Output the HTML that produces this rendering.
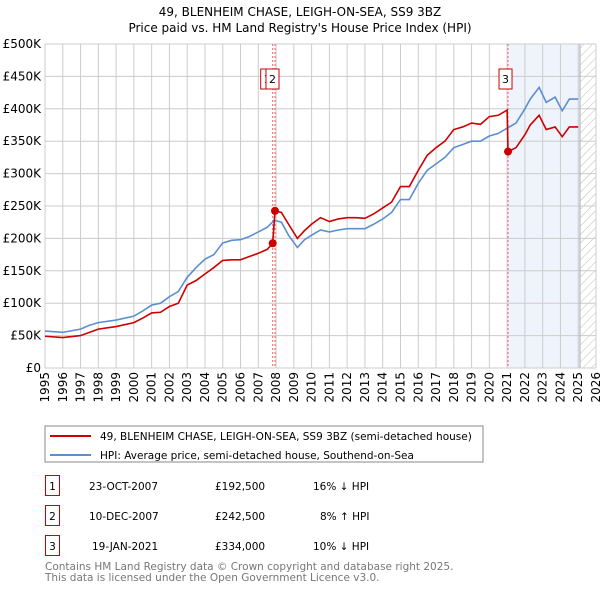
<!DOCTYPE html>
<html><head><meta charset="utf-8"><style>
body{margin:0;background:#fff;font-family:"Liberation Sans","DejaVu Sans",sans-serif;}
svg text{font-family:"DejaVu Sans","Liberation Sans",sans-serif;}
</style></head><body>
<svg id="c" width="600" height="590" xmlns="http://www.w3.org/2000/svg">
<defs><pattern id="hatch" patternUnits="userSpaceOnUse" width="6" height="6" patternTransform="rotate(45)"><line x1="0" y1="0" x2="0" y2="6" stroke="#bbb" stroke-width="1"/></pattern></defs>
<text x="300" y="16" text-anchor="middle" font-size="12" fill="#000">49, BLENHEIM CHASE, LEIGH-ON-SEA, SS9 3BZ</text>
<text x="300" y="32" text-anchor="middle" font-size="12" fill="#000">Price paid vs. HM Land Registry's House Price Index (HPI)</text>
<g id="plot"></g>
<rect x="45" y="426" width="438" height="36" fill="#fff" stroke="#888"/>
<line x1="50" y1="436" x2="91" y2="436" stroke="#cc0000" stroke-width="2"/>
<text x="100" y="440" font-size="10.5">49, BLENHEIM CHASE, LEIGH-ON-SEA, SS9 3BZ (semi-detached house)</text>
<line x1="50" y1="455" x2="91" y2="455" stroke="#5b8fd0" stroke-width="2"/>
<text x="100" y="459" font-size="10.5">HPI: Average price, semi-detached house, Southend-on-Sea</text>
<g font-size="10.5">
<rect x="45.5" y="475.5" width="14" height="20" fill="#fff" stroke="#cc0000"/><text x="52.5" y="490" text-anchor="middle">1</text>
<text x="89" y="490">23-OCT-2007</text><text x="215" y="490">£192,500</text><text x="313" y="490">16% ↓ HPI</text>
<rect x="45.5" y="505.5" width="14" height="20" fill="#fff" stroke="#cc0000"/><text x="52.5" y="520" text-anchor="middle">2</text>
<text x="89" y="520">10-DEC-2007</text><text x="215" y="520">£242,500</text><text x="320" y="520">8% ↑ HPI</text>
<rect x="45.5" y="535.5" width="14" height="20" fill="#fff" stroke="#cc0000"/><text x="52.5" y="550" text-anchor="middle">3</text>
<text x="92" y="550">19-JAN-2021</text><text x="215" y="550">£334,000</text><text x="313" y="550">10% ↓ HPI</text>
</g>
<text x="45" y="570" font-size="10.5" fill="#777">Contains HM Land Registry data © Crown copyright and database right 2025.</text>
<text x="45" y="581" font-size="10.5" fill="#777">This data is licensed under the Open Government Licence v3.0.</text>
</svg>
<script>
const hpiYears=[1995,1996,1997,1997.5,1998,1999,2000,2000.5,2001,2001.5,2002,2002.5,2003,2003.5,2004,2004.5,2005,2005.5,2006,2006.5,2007,2007.5,2007.9,2008.3,2008.7,2009.2,2009.6,2010,2010.5,2011,2011.5,2012,2012.5,2013,2013.5,2014,2014.5,2015,2015.5,2016,2016.5,2017,2017.5,2018,2018.5,2019,2019.5,2020,2020.5,2021,2021.5,2022,2022.3,2022.8,2023.2,2023.7,2024.1,2024.5,2025];
const hpiValues=[57,55,60,66,70,74,80,88,97,100,110,118,140,155,168,175,193,197,198,203,210,217,228,225,205,186,198,205,213,210,213,215,215,215,222,230,240,260,260,285,305,315,325,340,345,350,350,358,362,370,378,400,415,433,410,418,397,415,415];
const priceYears=[1995,1996,1997,1998,1999,2000,2000.5,2001,2001.5,2002,2002.5,2003,2003.5,2004,2004.5,2005,2005.5,2006,2006.5,2007,2007.5,2007.81,2007.94,2008.3,2008.7,2009.2,2009.6,2010,2010.5,2011,2011.5,2012,2012.5,2013,2013.5,2014,2014.5,2015,2015.5,2016,2016.5,2017,2017.5,2018,2018.5,2019,2019.5,2020,2020.5,2021.0,2021.05,2021.5,2022,2022.3,2022.8,2023.2,2023.7,2024.1,2024.5,2025];
const priceValues=[49,47,50,60,64,70,77,85,86,95,100,128,135,145,155,166,167,167,172,177,183,192.5,242.5,240,222,200,212,222,232,226,230,232,232,231,238,247,256,280,280,305,328,340,350,368,372,378,376,388,390,398,334,340,360,375,390,368,372,357,372,372];
const saleYears=[2007.81,2007.94,2021.05];
const saleValues=[192.5,242.5,334];
const saleLabels=["1","2","3"];
const yTicks=[0,50,100,150,200,250,300,350,400,450,500];
const yTickLabels=["£0","£50K","£100K","£150K","£200K","£250K","£300K","£350K","£400K","£450K","£500K"];
const xTicks=[1995,1996,1997,1998,1999,2000,2001,2002,2003,2004,2005,2006,2007,2008,2009,2010,2011,2012,2013,2014,2015,2016,2017,2018,2019,2020,2021,2022,2023,2024,2025,2026];

const X0=45,X1=596,Y0=368,Y1=44;
const xs=y=>X0+(y-1995)/(2026-1995)*(X1-X0);
const ys=v=>Y0-v/500*(Y0-Y1);
const NS="http://www.w3.org/2000/svg";
const g=document.getElementById('plot');
function mk(t,a){const e=document.createElementNS(NS,t);for(const k in a)e.setAttribute(k,a[k]);g.appendChild(e);return e;}
let e;
e=mk('rect',{x:xs(2021.05),y:Y1,width:xs(2025.1)-xs(2021.05),height:Y0-Y1,fill:'#eef3fc'});


e=mk('rect',{x:xs(2025.1),y:Y1,width:X1-xs(2025.1),height:Y0-Y1,fill:'url(#hatch)'});


yTicks.forEach((v,i)=>{
 e=mk('line',{x1:X0,x2:X1,y1:ys(v),y2:ys(v),stroke:'#ccc'});
 
 
 e=mk('text',{x:X0-4,y:ys(v)+4,'text-anchor':'end','font-size':'12'});e.textContent=yTickLabels[i];
 
 
});
xTicks.forEach(y=>{
 e=mk('line',{x1:xs(y),x2:xs(y),y1:Y1,y2:Y0,stroke:'#ccc'});
 
 
 e=mk('text',{x:0,y:0,'font-size':'12','text-anchor':'end',transform:`translate(${xs(y)+4},${Y0+4}) rotate(-90)`});e.textContent=y;
 
 
});
e=mk('line',{x1:xs(2025.1),x2:xs(2025.1),y1:Y1,y2:Y0,stroke:'#aab'});


saleYears.forEach(y=>{
 e=mk('line',{x1:xs(y),x2:xs(y),y1:Y1,y2:Y0,stroke:'#e66','stroke-dasharray':'2,2'});
 
 
});
e=mk('polyline',{points:hpiYears.map((y,i)=>xs(y)+','+ys(hpiValues[i])).join(' '),fill:'none',stroke:'#5b8fd0','stroke-width':1.6});


e=mk('polyline',{points:priceYears.map((y,i)=>xs(y)+','+ys(priceValues[i])).join(' '),fill:'none',stroke:'#cc0000','stroke-width':1.6});


saleYears.forEach((y,i)=>{
 e=mk('circle',{cx:xs(y),cy:ys(saleValues[i]),r:4,fill:'#cc0000'});
 
 
});
const boxX=[xs(saleYears[0])-9,xs(saleYears[1])-9,xs(saleYears[2])-9];
saleLabels.forEach((l,i)=>{
 e=mk('rect',{x:boxX[i]+(i==0?-3:0),y:69,width:13,height:20,fill:'#fff',stroke:'#cc0000'});
 
 
 e=mk('text',{x:boxX[i]+(i==0?-3:0)+6.5,y:83,'text-anchor':'middle','font-size':'11'});e.textContent=l;
 
 
});
</script>
</body></html>
